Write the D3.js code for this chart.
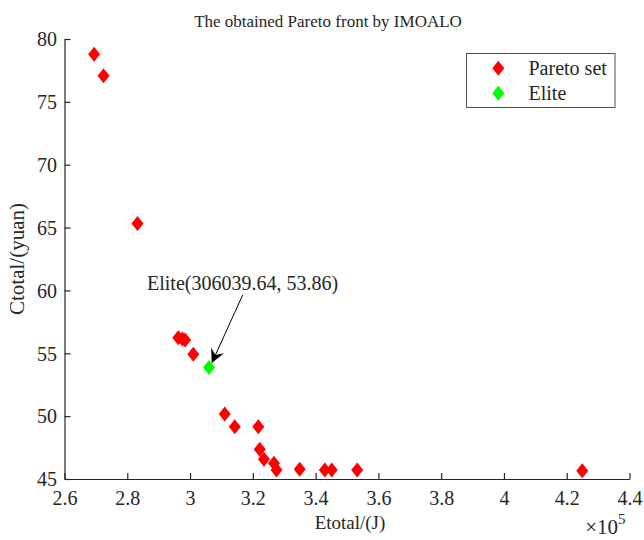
<!DOCTYPE html>
<html>
<head>
<meta charset="utf-8">
<script src="https://cdn.jsdelivr.net/npm/d3@7"></script>
<style>
  html, body { margin: 0; padding: 0; background: #fff; }
  svg { display: block; font-family: "Liberation Serif", serif; }
  svg text { font-family: "Liberation Serif", serif !important; fill: #262626; }
</style>
</head>
<body>
<svg id="chart" width="644" height="540"></svg>
<script>
// ---- data ----
const paretoE = [269440, 272440, 283240, 296240, 297540, 298440, 301040, 311040, 314240, 321740, 322190, 323540, 326740, 327540, 334940, 342940, 345140, 353240, 424940];
const paretoC = [78.78, 77.08, 65.33, 56.24, 56.13, 56.06, 54.92, 50.17, 49.16, 49.16, 47.36, 46.57, 46.25, 45.72, 45.77, 45.72, 45.72, 45.72, 45.66];
const eliteE = [306039.64];
const eliteC = [53.86];
const xTicks = [2.6, 2.8, 3.0, 3.2, 3.4, 3.6, 3.8, 4.0, 4.2, 4.4];
const yTicks = [45, 50, 55, 60, 65, 70, 75, 80];
const seriesNames = ["Pareto set", "Elite"];
const seriesColors = ["#ff0000", "#00ff00"];
const titleText = "The obtained Pareto front by IMOALO";
const xLabel = "Etotal/(J)";
const yLabel = "Ctotal/(yuan)";
const annoText = "Elite(306039.64, 53.86)";

// ---- layout ----
const svg = d3.select("#chart");
const L = 64.5, R = 629.5, T = 39, B = 479;
const x = d3.scaleLinear().domain([2.6e5, 4.4e5]).range([L, R]);
const y = d3.scaleLinear().domain([45, 80]).range([B, T]);
const axisColor = "#262626";
const fontSize = 20;

// axes (ticks inward)
const xAxis = d3.axisBottom(x).tickValues(xTicks.map(v => v * 1e5))
  .tickFormat(v => String(+(v / 1e5).toFixed(1)))
  .tickSizeInner(-6).tickSizeOuter(0).tickPadding(12);
const gx = svg.append("g").attr("transform", `translate(0,${B})`).call(xAxis);
const yAxis = d3.axisLeft(y).tickValues(yTicks).tickSizeInner(-6).tickSizeOuter(0).tickPadding(7.5);
const gy = svg.append("g").attr("transform", `translate(${L},0)`).call(yAxis);
[gx, gy].forEach(g => {
  g.attr("font-family", null).attr("font-size", null);
  g.select(".domain").attr("stroke", axisColor).attr("stroke-width", 1.2);
  g.selectAll(".tick line").attr("stroke", axisColor).attr("stroke-width", 1.2);
  g.selectAll(".tick text").attr("fill", axisColor)
    .attr("font-family", "Liberation Serif")
    .style("font-size", fontSize + "px");
});
gy.selectAll(".tick text").attr("dy", "0.34em");
gx.selectAll(".tick text").attr("dy", "0.71em");

// exponent label
const expG = svg.append("text").attr("x", R - 4).attr("y", 534).attr("text-anchor", "end")
  .style("font-size", "21px");
expG.append("tspan").text("\u00d710");
expG.append("tspan").attr("dy", -10).style("font-size", "15px").text("5");

// title & labels
svg.append("text").attr("x", 328).attr("y", 27).attr("text-anchor", "middle")
  .style("font-size", "17px").attr("fill", "#000").text(titleText);
svg.append("text").attr("x", 350).attr("y", 529).attr("text-anchor", "middle")
  .style("font-size", "19px").text(xLabel);
svg.append("text").attr("transform", `translate(24,${(T + B) / 2}) rotate(-90)`)
  .attr("text-anchor", "middle").style("font-size", "21px").text(yLabel);

// markers
const diamond = "M0,-7.5L6,0L0,7.5L-6,0Z";
svg.append("g").selectAll("path").data(paretoE.map((e, i) => [e, paretoC[i]]))
  .join("path").attr("d", diamond)
  .attr("transform", d => `translate(${x(d[0])},${y(d[1])})`)
  .attr("fill", seriesColors[0]);
svg.append("g").selectAll("path").data(eliteE.map((e, i) => [e, eliteC[i]]))
  .join("path").attr("d", diamond)
  .attr("transform", d => `translate(${x(d[0])},${y(d[1])})`)
  .attr("fill", seriesColors[1]);

// annotation
const ex = x(eliteE[0]), ey = y(eliteC[0]);
svg.append("text").attr("x", ex - 62).attr("y", ey - 78).style("font-size", fontSize + "px")
  .attr("fill", "#000").text(annoText);
const sx = ex + 33.7, sy = ey - 72.7, tx = ex + 2.7, ty = ey - 4.4;
const ang = Math.atan2(ty - sy, tx - sx);
const hl = 14, hw = 7, notch = 9;
const bx = tx - hl * Math.cos(ang), by = ty - hl * Math.sin(ang);
const nx = tx - notch * Math.cos(ang), ny = ty - notch * Math.sin(ang);
const px = -Math.sin(ang), py = Math.cos(ang);
svg.append("line").attr("x1", sx).attr("y1", sy).attr("x2", nx).attr("y2", ny)
  .attr("stroke", "#000").attr("stroke-width", 1);
svg.append("path")
  .attr("d", `M${tx},${ty}L${bx + px * hw},${by + py * hw}L${nx},${ny}L${bx - px * hw},${by - py * hw}Z`)
  .attr("fill", "#000");

// legend
const lg = svg.append("g");
lg.append("rect").attr("x", 466.5).attr("y", 53.5).attr("width", 148.5).attr("height", 54)
  .attr("fill", "#fff").attr("stroke", axisColor).attr("stroke-width", 0.8);
seriesNames.forEach((n, i) => {
  const yy = 68.3 + i * 25;
  lg.append("path").attr("d", diamond).attr("transform", `translate(498.3,${yy})`).attr("fill", seriesColors[i]);
  lg.append("text").attr("x", 528.5).attr("y", yy + 6.5).style("font-size", fontSize + "px")
    .attr("fill", "#000").text(n);
});
</script>
</body>
</html>
